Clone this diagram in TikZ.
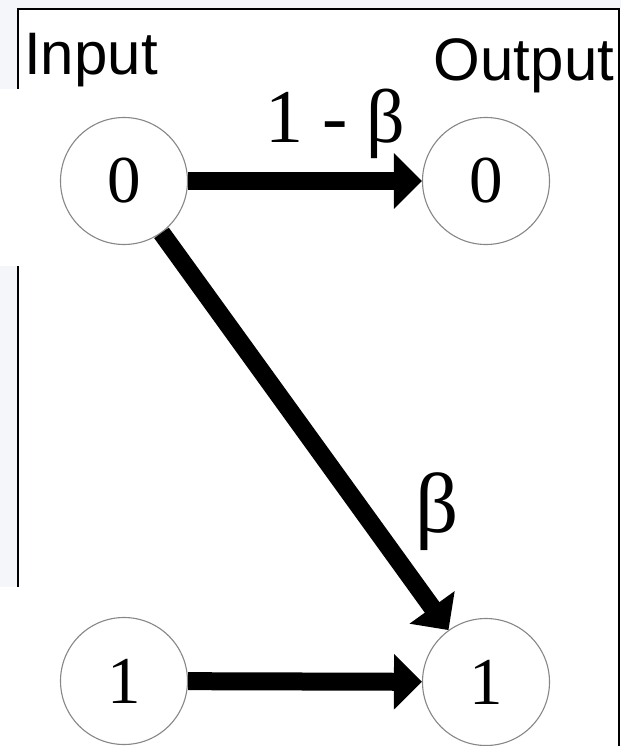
\documentclass[tikz,border=0pt]{standalone}
\usepackage{fontspec}
\setmainfont{Liberation Serif}
\newfontfamily\headfont{Liberation Sans}
\usetikzlibrary{arrows.meta}
\definecolor{ringgray}{RGB}{135,135,135}
\definecolor{shotgray}{RGB}{245,246,249}
\tikzset{
  state/.style={circle, draw=ringgray, fill=white, line width=1.1pt,
    minimum size=127pt, inner sep=0pt, font=\fontsize{67}{67}\selectfont},
  head/.style={anchor=base, font=\headfont\fontsize{60}{60}\selectfont},
  prob/.style={anchor=base, font=\fontsize{76}{76}\selectfont},
  bigarrow/.style={-{Triangle[length=28pt, width=54pt]}, line width=18pt, color=black},
  frame/.style={line width=2.2pt, color=black}
}
\begin{document}
\begin{tikzpicture}[x=1pt, y=-1pt]
  \useasboundingbox (0,0) rectangle (621,746);
  % Window background
  \fill[shotgray] (0,0) rectangle (621,8);
  \fill[shotgray] (0,0) rectangle (17,89);
  \fill[shotgray] (0,266) rectangle (17,587);
  % Frame pieces
  \draw[frame] (18,89) -- (18,9) -- (619,9) -- (619,746);
  \draw[frame] (18,266) -- (18,587);

  % Column titles
  \node[head] (in_title) at (91,75) {Input};
  \node[head] (out_title) at (524,81) {Output};

  % States
  \node[state] (in0) at (124,181) {0};
  \node[state] (out0) at (486,181) {0};
  \node[state] (in1) at (124,681) {1};
  \node[state] (out1) at (486,682) {1};

  % Transitions
  \draw[bigarrow] (in0) -- (out0);
  \draw[bigarrow] (in0) -- (out1);
  \draw[bigarrow] (in1) -- (out1);

  % Probabilities
  \node[prob] (p_keep) at (335,143) {1 - β};
  \node[prob, font=\fontsize{85}{85}\selectfont] (p_flip) at (437,532) {β};
\end{tikzpicture}
\end{document}
